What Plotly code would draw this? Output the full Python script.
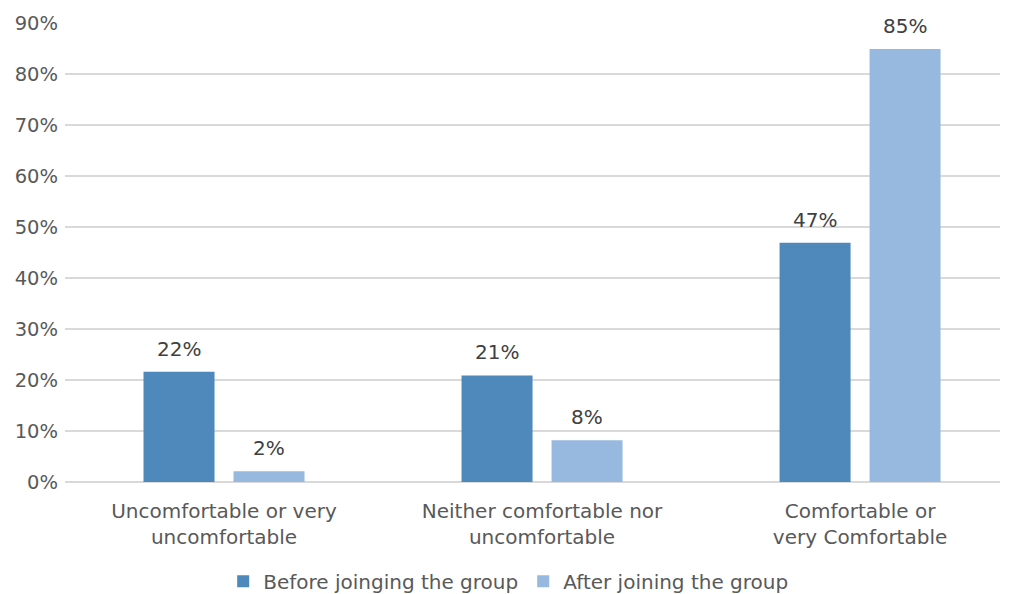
import plotly.graph_objects as go

categories = ["Uncomfortable or very<br>uncomfortable", "Neither comfortable nor<br>uncomfortable", "Comfortable or<br>very Comfortable"]
before_vals = [21.6, 20.9, 46.9]
after_vals = [2.1, 8.2, 84.9]
before_labels = ["22%", "21%", "47%"]
after_labels = ["2%", "8%", "85%"]
tick_vals = [0, 10, 20, 30, 40, 50, 60, 70, 80, 90]
tick_text = ["0%", "10%", "20%", "30%", "40%", "50%", "60%", "70%", "80%", "90%"]

font_family = "DejaVu Sans, Arial, sans-serif"
text_grey = "#595959"
label_grey = "#404040"

fig = go.Figure()
fig.add_trace(go.Bar(
    x=categories, y=before_vals, name="Before joinging the group",
    marker=dict(color="#4F88BB", line=dict(width=0)),
))
fig.add_trace(go.Bar(
    x=categories, y=after_vals, name="After joining the group",
    marker=dict(color="#97B8DF", line=dict(width=0)),
))

# data labels above each bar
for i, cat in enumerate(categories):
    fig.add_annotation(x=cat, y=before_vals[i], xref="x", yref="y", text=before_labels[i],
                       showarrow=False, yanchor="bottom", yshift=9, xshift=-45,
                       font=dict(size=20, color=label_grey, family=font_family))
    fig.add_annotation(x=cat, y=after_vals[i], xref="x", yref="y", text=after_labels[i],
                       showarrow=False, yanchor="bottom", yshift=9, xshift=45,
                       font=dict(size=20, color=label_grey, family=font_family))

fig.update_layout(
    width=1009, height=594,
    margin=dict(l=65, r=9, t=23, b=112, autoexpand=False),
    paper_bgcolor="white", plot_bgcolor="white",
    barmode="group", bargap=0.434, bargroupgap=0.211,
    font=dict(family=font_family, size=20, color=text_grey),
    xaxis=dict(range=[-0.5, 2.44], showgrid=False, showline=False, ticks="",
               ticklabelstandoff=15,
               tickfont=dict(size=20, color=text_grey, family=font_family)),
    yaxis=dict(range=[0, 90], tickvals=tick_vals, ticktext=tick_text,
               showgrid=True, gridcolor="#D9D9D9", gridwidth=1.5,
               zeroline=True, zerolinecolor="#D9D9D9", zerolinewidth=1.5,
               showline=False, ticks="", ticklen=0, ticklabelstandoff=6,
               tickfont=dict(size=19.5, color=text_grey, family=font_family)),
    legend=dict(orientation="h", x=0.474, xanchor="center", y=-0.216, yanchor="middle",
                font=dict(size=20, color=text_grey, family=font_family),
                itemwidth=30, traceorder="normal"),
    showlegend=True,
)

fig.write_html("out.html")
